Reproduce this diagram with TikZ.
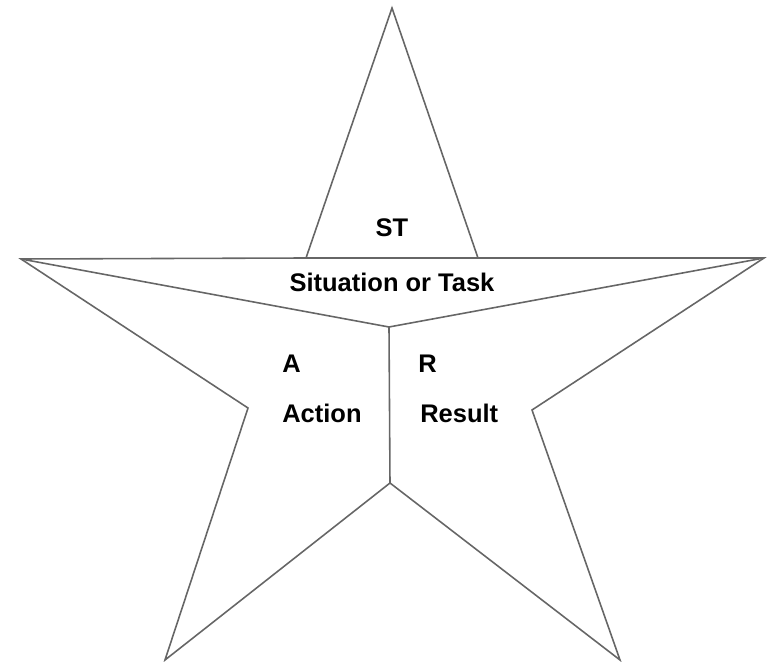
\documentclass[tikz,border=0pt]{standalone}
\usepackage{fontspec}
\setmainfont{Liberation Sans}
\usetikzlibrary{positioning}

\begin{document}
\begin{tikzpicture}[x=0.02cm, y=-0.02cm,
    edge/.style={draw=black!60, line width=0.9pt, line join=miter},
    txt/.style={font=\bfseries\fontsize{14.5}{17}\selectfont, inner sep=0pt}
]
\useasboundingbox (0,0) rectangle (769,662);
% star points
\coordinate (top) at (392,8);
\coordinate (tr) at (478,258);
\coordinate (right) at (764,258);
\coordinate (rr) at (532,410);
\coordinate (br) at (620,660);
\coordinate (bot) at (390,483);
\coordinate (bl) at (165,660);
\coordinate (ll) at (248,408);
\coordinate (left) at (21,259);
\coordinate (tl) at (306,258);
\coordinate (mid) at (389,327);

\draw[edge] (top) -- (tr) -- (right) -- (rr) -- (br) -- (bot) -- (bl) -- (ll) -- (left) -- (tl) -- cycle;
\draw[edge] (tl) -- (tr);
\draw[edge] (left) -- (mid) -- (right);
\draw[edge] (mid) -- (bot);

\node[txt, anchor=base] (st) at (392,237) {ST};
\node[txt, anchor=base] (task) at (392,292) {Situation or Task};
\node[txt, anchor=base west] (a) at (282,373) {A};
\node[txt, anchor=base west] (action) at (282,423) {Action};
\node[txt, anchor=base west] (r) at (418,373) {R};
\node[txt, anchor=base west] (result) at (420,423) {Result};
\end{tikzpicture}
\end{document}
